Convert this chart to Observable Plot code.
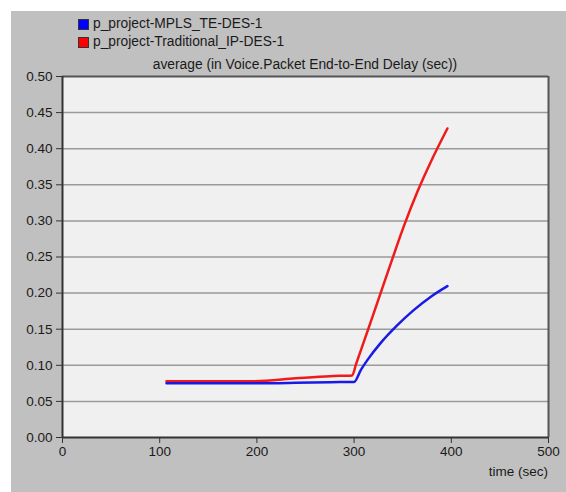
<!DOCTYPE html>
<html>
<head>
<meta charset="utf-8">
<script src="https://cdn.jsdelivr.net/npm/d3@7"></script>
<script src="https://cdn.jsdelivr.net/npm/@observablehq/plot@0.6"></script>
<style>
  html, body { margin: 0; padding: 0; background: #ffffff; }
  body { width: 566px; height: 492px; position: relative; overflow: hidden;
         font-family: "Liberation Sans", Arial, sans-serif; }
  #panel { position: absolute; left: 11px; top: 11px; right: 0; bottom: 0; background: #c0c0c0; }
  .lg { position: absolute; left: 93px; font-size: 13.8px; color: #1a1a1a; line-height: 16px; white-space: nowrap; }
  .sw { position: absolute; left: 78px; width: 9px; height: 9px; border: 1px solid #333; }
  #title { position: absolute; left: 62px; width: 486px; top: 57px; text-align: center;
           font-size: 13.8px; color: #1a1a1a; line-height: 16px; white-space: nowrap; }
  #xlabel { position: absolute; right: 18px; top: 464px; font-size: 13.5px; color: #1a1a1a; line-height: 16px; }
  #chart { position: absolute; left: 0; top: 50px; }
</style>
</head>
<body>
<div id="panel"></div>
<div id="legend"></div>
<div id="title"></div>
<div id="xlabel"></div>
<div id="chart"></div>
<script>
const seriesNames = ["p_project-MPLS_TE-DES-1", "p_project-Traditional_IP-DES-1"];
const seriesColors = ["#1a1ae6", "#f01a1a"];
const swatchColors = ["#0000ff", "#ff0000"];
const chartTitle = "average (in Voice.Packet End-to-End Delay (sec))";
const xAxisLabel = "time (sec)";
const xTicks = [0, 100, 200, 300, 400, 500];
const yTicks = [0, 0.05, 0.10, 0.15, 0.20, 0.25, 0.30, 0.35, 0.40, 0.45, 0.50];

const timeMpls  = [107, 150, 196, 240, 276, 300, 307, 314, 327, 344, 361, 379, 396];
const delayMpls = [0.075, 0.075, 0.075, 0.0757, 0.0766, 0.077, 0.0938, 0.1079, 0.1304, 0.1549, 0.1761, 0.1950, 0.2096];

const timeIp  = [107, 150, 198, 240, 275, 298, 302, 314, 327, 339, 351, 365, 379, 396];
const delayIp = [0.078, 0.078, 0.078, 0.082, 0.085, 0.086, 0.1016, 0.148, 0.199, 0.246, 0.292, 0.340, 0.382, 0.428];

// legend
const legend = document.getElementById("legend");
seriesNames.forEach((name, i) => {
  const sw = document.createElement("div");
  sw.className = "sw";
  sw.style.top = (19 + i * 18) + "px";
  sw.style.background = swatchColors[i];
  legend.appendChild(sw);
  const t = document.createElement("div");
  t.className = "lg";
  t.style.top = (16 + i * 18) + "px";
  t.textContent = name;
  legend.appendChild(t);
});
document.getElementById("title").textContent = chartTitle;
document.getElementById("xlabel").textContent = xAxisLabel;

const mpls = timeMpls.map((t, i) => ({time: t, delay: delayMpls[i]}));
const ip = timeIp.map((t, i) => ({time: t, delay: delayIp[i]}));

const chart = Plot.plot({
  width: 566,
  height: 442,
  marginLeft: 62,
  marginRight: 18,
  marginTop: 26,
  marginBottom: 55,
  style: {background: "transparent", fontFamily: "'Liberation Sans', Arial, sans-serif", fontSize: "13.5px", color: "#1a1a1a", overflow: "visible"},
  x: {domain: [0, 500]},
  y: {domain: [0, 0.5]},
  marks: [
    Plot.frame({fill: "#f0f0f0", stroke: null}),
    Plot.gridY(yTicks.filter(v => v > 0 && v < 0.5), {stroke: "#9a9a9a", strokeOpacity: 1, strokeWidth: 1.5}),
    Plot.ruleY([0.5], {stroke: "#555", strokeWidth: 2}),
    Plot.ruleX([500], {stroke: "#555", strokeWidth: 2}),
    Plot.line(ip, {x: "time", y: "delay", stroke: seriesColors[1], strokeWidth: 2.5, curve: "monotone-x"}),
    Plot.line(mpls, {x: "time", y: "delay", stroke: seriesColors[0], strokeWidth: 2.5, curve: "monotone-x"}),
    Plot.ruleX([0], {stroke: "#333", strokeWidth: 2}),
    Plot.ruleY([0], {stroke: "#333", strokeWidth: 2}),
    Plot.axisY({ticks: yTicks, tickFormat: d3.format(".2f"), tickSize: 6, tickPadding: 4, label: null, stroke: "#333"}),
    Plot.axisX({ticks: xTicks, tickFormat: d3.format("d"), tickSize: 6, tickPadding: 3, label: null, stroke: "#333"})
  ]
});
document.getElementById("chart").appendChild(chart);
</script>
</body>
</html>
